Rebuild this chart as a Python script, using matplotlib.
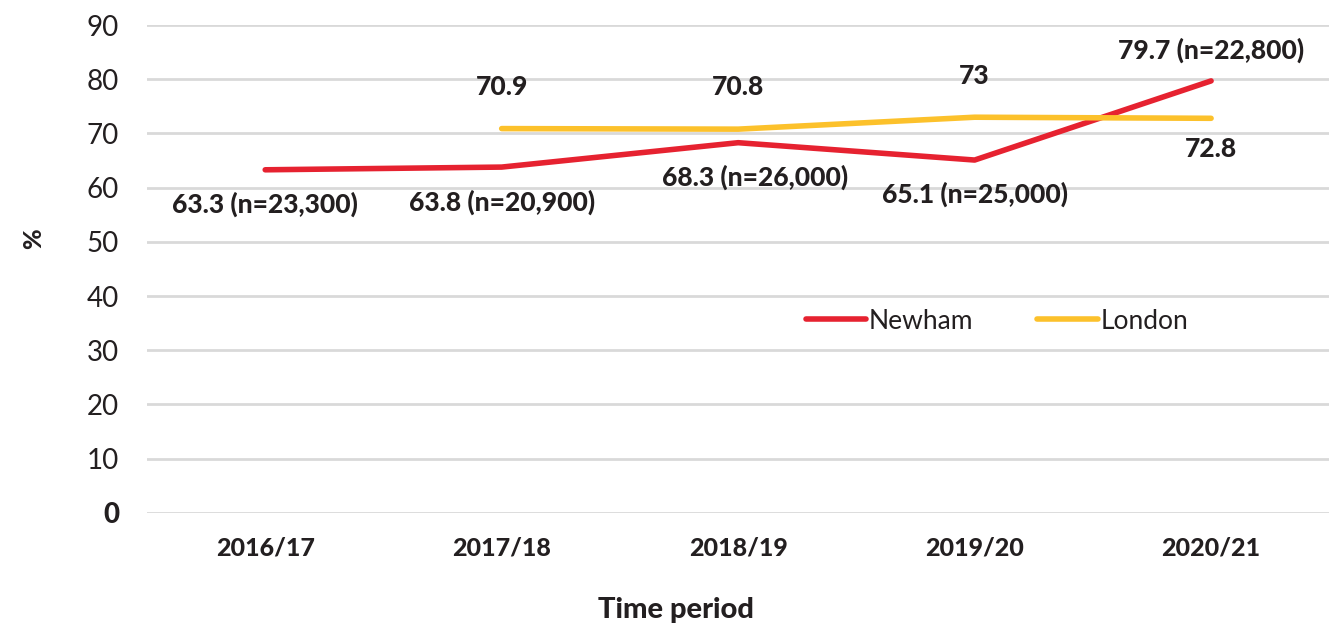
import matplotlib.pyplot as plt

periods = ['2016/17', '2017/18', '2018/19', '2019/20', '2020/21']
newham = [63.3, 63.8, 68.3, 65.1, 79.7]
newham_n = ['23,300', '20,900', '26,000', '25,000', '22,800']
london_periods = ['2017/18', '2018/19', '2019/20', '2020/21']
london = [70.9, 70.8, 73, 72.8]

RED = '#E62230'
YELLOW = '#FCC12B'
TXT = '#231F20'

plt.rcParams['font.family'] = ['Lato', 'DejaVu Sans']

fig = plt.figure(figsize=(13.3, 6.27), dpi=100)
ax = fig.add_axes([0.1105, 0.182, 0.889, 0.778])

xs = list(range(len(periods)))
lx = [periods.index(p) for p in london_periods]

ax.plot(xs, newham, color=RED, lw=4, solid_capstyle='round', label='Newham', zorder=3)
ax.plot(lx, london, color=YELLOW, lw=4, solid_capstyle='round', label='London', zorder=3)

# data labels: Newham mostly below the line, London mostly above
for i, (v, n) in enumerate(zip(newham, newham_n)):
    dy = 22 if i == len(newham) - 1 else -25
    dx = 12 if i == 2 else 0
    ax.annotate(f'{v:g} (n={n})', (i, v), xytext=(dx, dy), textcoords='offset points',
                ha='center', va='center', fontsize=19, fontweight='black', color=TXT)
for i, v in zip(lx, london):
    dy = -22 if i == lx[-1] else 30
    ax.annotate(f'{v:g}', (i, v), xytext=(0, dy), textcoords='offset points',
                ha='center', va='center', fontsize=19, fontweight='black', color=TXT)

ax.set_xlim(-0.5, len(periods) - 0.5)
ax.set_ylim(0, 90)
ax.set_yticks(range(0, 91, 10))
ax.set_xticks(xs)
ax.set_xticklabels(periods, fontsize=18, fontweight='black', color=TXT)
ax.tick_params(axis='y', labelsize=20, labelcolor=TXT, length=0, pad=20)
ax.tick_params(axis='x', length=0, pad=17)
ax.get_yticklabels()[0].set_fontweight('black')
ax.yaxis.grid(True, color='#D9D9D9', lw=2)
ax.set_axisbelow(True)
for s in ax.spines.values():
    s.set_visible(False)

fig.text(0.025, 0.62, '%', rotation=90, ha='center', va='center',
         fontsize=18, fontweight='black', color=TXT)
fig.text(0.508, 0.027, 'Time period', ha='center', va='center',
         fontsize=21, fontweight='black', color=TXT)

ax.legend(loc='center left', bbox_to_anchor=(0.537, 0.393), ncol=2, frameon=False,
          fontsize=19, handlelength=2.3, handletextpad=0.1, columnspacing=2.4,
          labelcolor=TXT)

fig.savefig('out.png', dpi=100)
